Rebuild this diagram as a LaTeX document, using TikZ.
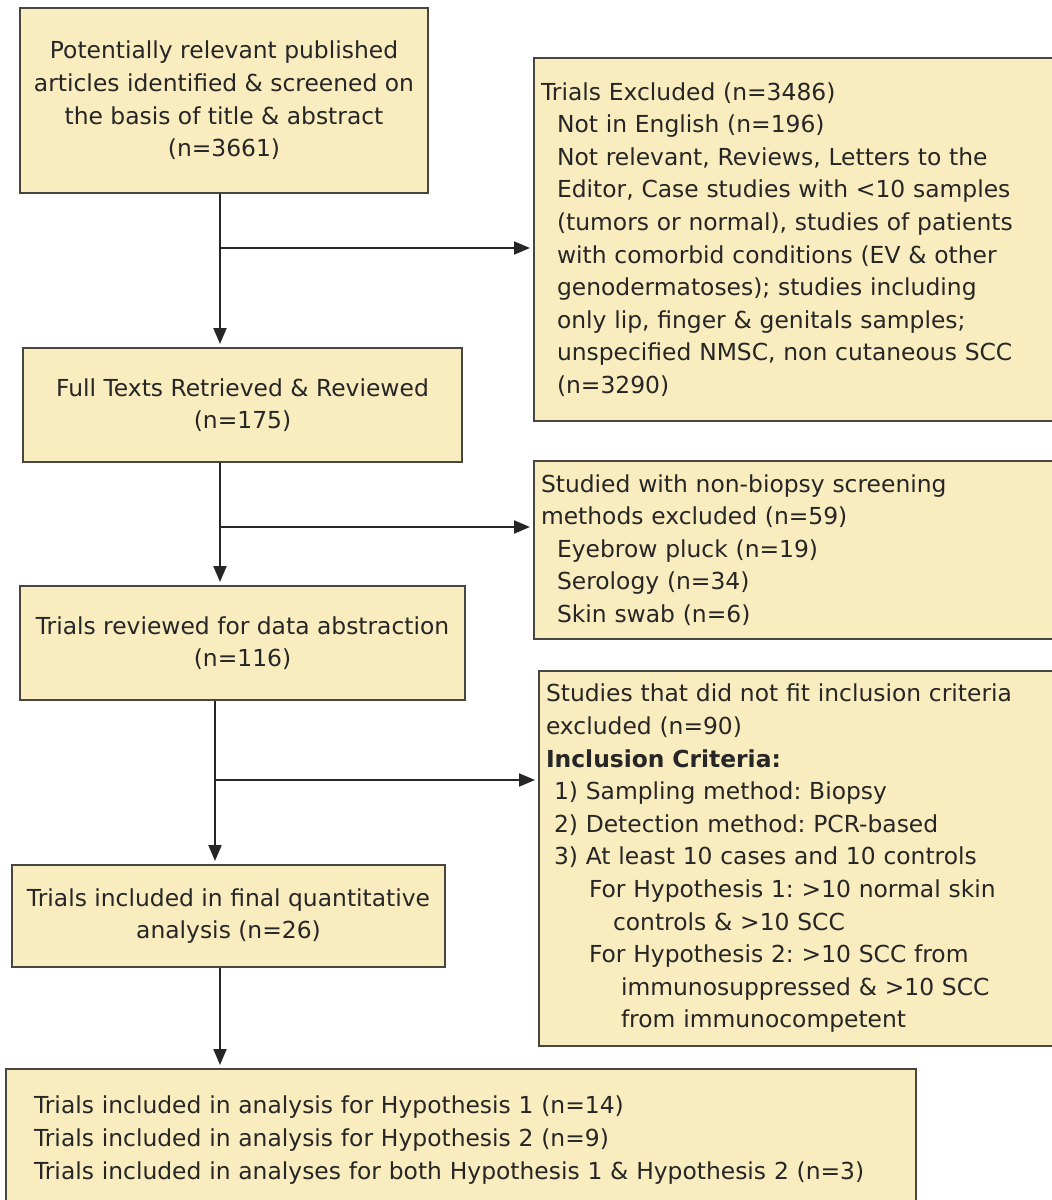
\documentclass[tikz,border=0pt]{standalone}
\usepackage{fontspec}
\setmainfont{DejaVu Sans}
\usetikzlibrary{arrows.meta,positioning}

\definecolor{boxfill}{RGB}{249,236,190}
\definecolor{boxline}{RGB}{72,70,62}
\definecolor{inktext}{RGB}{38,38,38}
\frenchspacing

\begin{document}
\begin{tikzpicture}[
  x=0.5pt, y=-0.5pt,
  font=\fontsize{11.7}{16.3}\selectfont,
  box/.style={draw=boxline, line width=1pt, fill=boxfill, text=inktext, align=center, inner sep=0pt},
  exbox/.style={box, align=left, anchor=north west, inner xsep=3.5pt, inner ysep=0pt, text width=260pt},
  arrow/.style={-{Triangle[length=8pt,width=6.5pt]}, line width=1pt, draw=black!85, shorten >=1.5pt}
]
\useasboundingbox (0,0) rectangle (1052,1200);
\clip (0,0) rectangle (1052,1200);

% main column
\node[box, minimum width=204pt, minimum height=92.5pt] (search) at (224,100.5)
  {Potentially relevant published\\articles identified \& screened on\\the basis of title \& abstract\\(n=3661)};
\node[box, minimum width=219.5pt, minimum height=57pt] (fulltext) at (242.5,405)
  {Full Texts Retrieved \& Reviewed\\(n=175)};
\node[box, minimum width=222.5pt, minimum height=57pt] (abstr) at (242.5,643)
  {Trials reviewed for data abstraction\\(n=116)};
\node[box, minimum width=216.5pt, minimum height=51pt] (final) at (228.5,916)
  {Trials included in final quantitative\\analysis (n=26)};
\node[exbox, inner xsep=14pt, text width=427pt, minimum height=71pt] (hypo) at (5,1068)
  {Trials included in analysis for Hypothesis 1 (n=14)\\
   Trials included in analysis for Hypothesis 2 (n=9)\\
   Trials included in analyses for both Hypothesis 1 \& Hypothesis 2 (n=3)};

% exclusions
\node[exbox, minimum height=181.5pt] (exA) at (533,57)
  {Trials Excluded (n=3486)\\
   \hspace*{8pt}Not in English (n=196)\\
   \hspace*{8pt}Not relevant, Reviews, Letters to the\\
   \hspace*{8pt}Editor, Case studies with <10 samples\\
   \hspace*{8pt}(tumors or normal), studies of patients\\
   \hspace*{8pt}with comorbid conditions (EV \& other\\
   \hspace*{8pt}genodermatoses); studies including\\
   \hspace*{8pt}only lip, finger \& genitals samples;\\
   \hspace*{8pt}unspecified NMSC, non cutaneous SCC\\
   \hspace*{8pt}(n=3290)};
\node[exbox, minimum height=89pt] (exB) at (533,460)
  {Studied with non-biopsy screening\\
   methods excluded (n=59)\\
   \hspace*{8pt}Eyebrow pluck (n=19)\\
   \hspace*{8pt}Serology (n=34)\\
   \hspace*{8pt}Skin swab (n=6)};
\node[exbox, minimum height=187.5pt] (exC) at (538,670)
  {Studies that did not fit inclusion criteria\\
   excluded (n=90)\\
   \textbf{Inclusion Criteria:}\\
   \hspace*{4pt}1) Sampling method: Biopsy\\
   \hspace*{4pt}2) Detection method: PCR-based\\
   \hspace*{4pt}3) At least 10 cases and 10 controls\\
   \hspace*{21.5pt}For Hypothesis 1: >10 normal skin\\
   \hspace*{33.5pt}controls \& >10 SCC\\
   \hspace*{21.5pt}For Hypothesis 2: >10 SCC from\\
   \hspace*{37.5pt}immunosuppressed \& >10 SCC\\
   \hspace*{37.5pt}from immunocompetent};

% connectors
\coordinate (j1) at (220,248);
\coordinate (j2) at (220,527);
\coordinate (j3) at (215,780);
\draw[arrow] (search.south -| j1) -- (fulltext.north -| j1);
\draw[arrow] (j1) -- (exA.west |- j1);
\draw[arrow] (fulltext.south -| j2) -- (abstr.north -| j2);
\draw[arrow] (j2) -- (exB.west |- j2);
\draw[arrow] (abstr.south -| j3) -- (final.north -| j3);
\draw[arrow] (j3) -- (exC.west |- j3);
\draw[arrow] (final.south -| j1) -- (hypo.north -| j1);

\end{tikzpicture}
\end{document}
